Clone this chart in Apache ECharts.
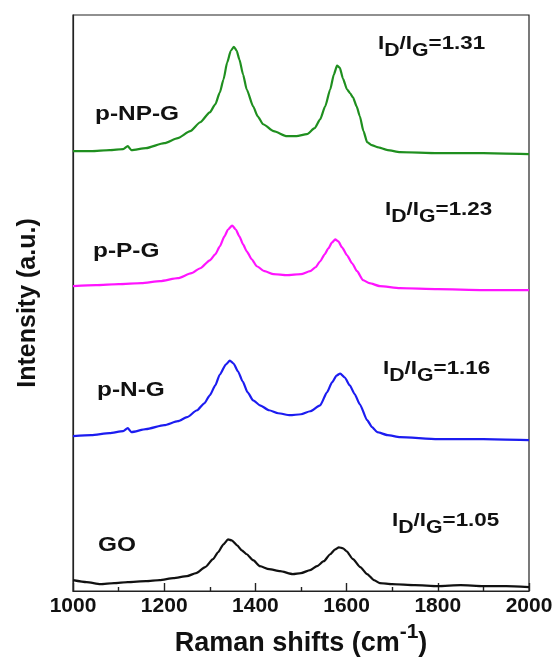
<!DOCTYPE html>
<html>
<head>
<meta charset="utf-8">
<script src="https://cdn.jsdelivr.net/npm/echarts@6/dist/echarts.min.js"></script>
<style>
  html, body { margin: 0; padding: 0; background: #fff; }
  #chart { width: 559px; height: 662px; }
</style>
</head>
<body>
<div id="chart"></div>
<script>
// Raman spectra, stacked with offsets (x: cm-1, y: arbitrary intensity)
const goData = [
  [1000, 11], [1030, 9], [1060, 7], [1090, 8], [1120, 9], [1160, 10], [1190, 11],
  [1220, 13], [1250, 15], [1270, 18], [1290, 24], [1307, 32], [1318, 39], [1330, 47],
  [1340, 52], [1348, 51], [1360, 46], [1370, 41], [1381, 37], [1395, 31], [1410, 25],
  [1430, 22], [1454, 20], [1482, 17], [1500, 18], [1520, 21], [1535, 25], [1550, 30],
  [1564, 37], [1575, 42], [1583, 44], [1592, 43], [1600, 40], [1614, 32], [1630, 24],
  [1645, 17], [1660, 11], [1673, 8], [1700, 7], [1750, 6], [1800, 5], [1850, 6],
  [1900, 5], [1950, 5], [2000, 4]
];
const pngData = [
  [1000, 156], [1040, 157], [1080, 159], [1110, 161], [1120, 164], [1128, 160],
  [1160, 163], [1200, 167], [1230, 171], [1250, 175], [1272, 182], [1288, 189],
  [1300, 197], [1312, 207], [1322, 218], [1335, 228], [1344, 232], [1352, 229],
  [1362, 221], [1372, 211], [1383, 200], [1395, 192], [1410, 187], [1430, 182],
  [1450, 179], [1476, 177], [1500, 178], [1520, 181], [1542, 187], [1557, 200],
  [1568, 210], [1578, 217], [1586, 219], [1596, 215], [1607, 207], [1618, 198],
  [1629, 188], [1645, 172], [1656, 165], [1667, 160], [1690, 157], [1717, 155],
  [1800, 153], [1900, 153], [2000, 152]
];
const ppgData = [
  [1000, 307], [1050, 308], [1100, 309], [1150, 310], [1191, 312], [1230, 315],
  [1260, 320], [1279, 325], [1300, 333], [1312, 339], [1322, 347], [1332, 357],
  [1340, 364], [1349, 368], [1357, 364], [1365, 357], [1373, 349], [1381, 342],
  [1392, 334], [1403, 327], [1420, 322], [1440, 319], [1469, 318], [1500, 319],
  [1520, 322], [1532, 326], [1542, 332], [1552, 339], [1560, 345], [1568, 351],
  [1575, 354], [1582, 352], [1590, 346], [1601, 338], [1612, 330], [1623, 322],
  [1636, 313], [1650, 310], [1673, 307], [1717, 305], [1800, 304], [1900, 303],
  [2000, 303]
];
const pnpgData = [
  [1000, 443], [1040, 443], [1080, 444], [1110, 445], [1120, 448], [1128, 444],
  [1160, 446], [1200, 451], [1230, 456], [1257, 463], [1279, 472], [1300, 482],
  [1312, 490], [1322, 502], [1330, 515], [1338, 532], [1346, 544], [1353, 548],
  [1359, 544], [1365, 535], [1373, 520], [1381, 505], [1395, 488], [1405, 478],
  [1417, 470], [1440, 463], [1469, 458], [1490, 458], [1513, 460], [1530, 466],
  [1542, 475], [1553, 488], [1564, 505], [1572, 520], [1579, 529], [1585, 527],
  [1592, 516], [1601, 505], [1608, 501], [1614, 497], [1622, 488], [1629, 478],
  [1637, 463], [1645, 452], [1655, 449], [1667, 447], [1690, 444], [1717, 442],
  [1800, 441], [1900, 441], [2000, 440]
];
const sampleNames = ['GO', 'p-N-G', 'p-P-G', 'p-NP-G'];
const ratios = ['1.05', '1.16', '1.23', '1.31'];
const lineColors = ['#111111', '#1c1cf0', '#ff14ff', '#1f8f1f'];

const chart = echarts.init(document.getElementById('chart'));
const font = 'Liberation Sans, Arial, sans-serif';

function ratioText(v, x, y) {
  return {
    type: 'text',
    x: x,
    y: y,
    scaleX: 1.18,
    style: {
      text: '{n|I}{s|D}{n|/I}{s|G}{n|=' + v + '}',
      rich: {
        n: { fontSize: 19, fontWeight: 'bold', fontFamily: font, lineHeight: 20, verticalAlign: 'top', fill: '#111' },
        s: { fontSize: 18, fontWeight: 'bold', fontFamily: font, lineHeight: 20, padding: [8, 0, 0, 0], verticalAlign: 'top', fill: '#111' }
      }
    }
  };
}

function nameText(t, x, y) {
  return {
    type: 'text',
    x: x,
    y: y,
    scaleX: 1.22,
    style: { text: t, fontSize: 20, fontWeight: 'bold', fontFamily: font, fill: '#111' }
  };
}

const option = {
  backgroundColor: '#fff',
  animation: false,
  grid: {
    left: 73, right: 30, top: 15, bottom: 67,
    show: true, borderColor: '#222', borderWidth: 1.2
  },
  xAxis: {
    type: 'value',
    min: 1000, max: 2000, interval: 200,
    name: '{a|Raman shifts (cm}{s|-1}{a|)}',
    nameLocation: 'middle',
    nameGap: 26,
    nameTextStyle: {
      rich: {
        a: { fontSize: 27, fontWeight: 'bold', fontFamily: font, color: '#111', lineHeight: 40, verticalAlign: 'bottom' },
        s: { fontSize: 21, fontWeight: 'bold', fontFamily: font, color: '#111', lineHeight: 40, padding: [0, 0, 14, 0], verticalAlign: 'bottom' }
      }
    },
    axisLine: { lineStyle: { color: '#222', width: 1.2 } },
    axisTick: { inside: true, length: 8, lineStyle: { color: '#222', width: 1.4 } },
    minorTick: { show: true, splitNumber: 2, length: 4, lineStyle: { color: '#222', width: 1.4 } },
    axisLabel: {
      fontSize: 21, fontWeight: 'bold', fontFamily: font, color: '#111', margin: 5,
      formatter: (v) => String(v)
    },
    splitLine: { show: false }
  },
  yAxis: {
    type: 'value',
    min: 0, max: 580,
    name: 'Intensity (a.u.)',
    nameLocation: 'middle',
    nameGap: 32,
    nameTextStyle: { fontSize: 25, fontWeight: 'bold', fontFamily: font, color: '#111' },
    axisLine: { show: true, lineStyle: { color: '#222', width: 1.2 } },
    axisTick: { show: false },
    axisLabel: { show: false },
    splitLine: { show: false }
  },
  series: [goData, pngData, ppgData, pnpgData].map((d, i) => ({
    name: sampleNames[i],
    type: 'line',
    data: d,
    showSymbol: false,
    smooth: 0.2,
    smoothMonotone: 'x',
    lineStyle: { color: lineColors[i], width: 2.2 }
  })),
  graphic: [
    nameText(sampleNames[3], 95, 104),
    nameText(sampleNames[2], 93, 241),
    nameText(sampleNames[1], 97, 380),
    nameText(sampleNames[0], 98, 535),
    ratioText(ratios[3], 378, 34),
    ratioText(ratios[2], 385, 200),
    ratioText(ratios[1], 383, 359),
    ratioText(ratios[0], 392, 511)
  ]
};

chart.setOption(option);
</script>
</body>
</html>
